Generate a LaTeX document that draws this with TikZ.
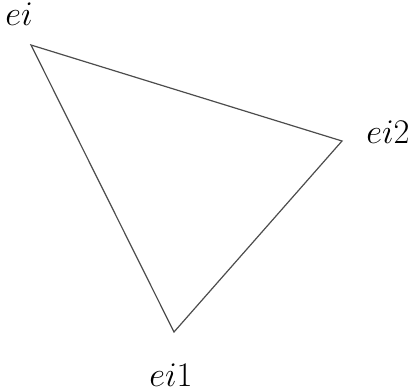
\documentclass[tikz,border=0pt]{standalone}
\begin{document}
\begin{tikzpicture}[x=0.5pt,y=-0.5pt]
    \useasboundingbox (0,0) rectangle (409,392);
    \coordinate (A) at (31,45);
    \coordinate (B) at (174,332);
    \coordinate (C) at (342,141);
    \draw[line width=0.6pt,black!70] (A)--(B)--(C)--cycle;
    \node (la) at (19,14) {\LARGE $ei$};
    \node (lb) at (171,375) {\LARGE $ei1$};
    \node (lc) at (388,132) {\LARGE $ei2$};
\end{tikzpicture}
\end{document}
